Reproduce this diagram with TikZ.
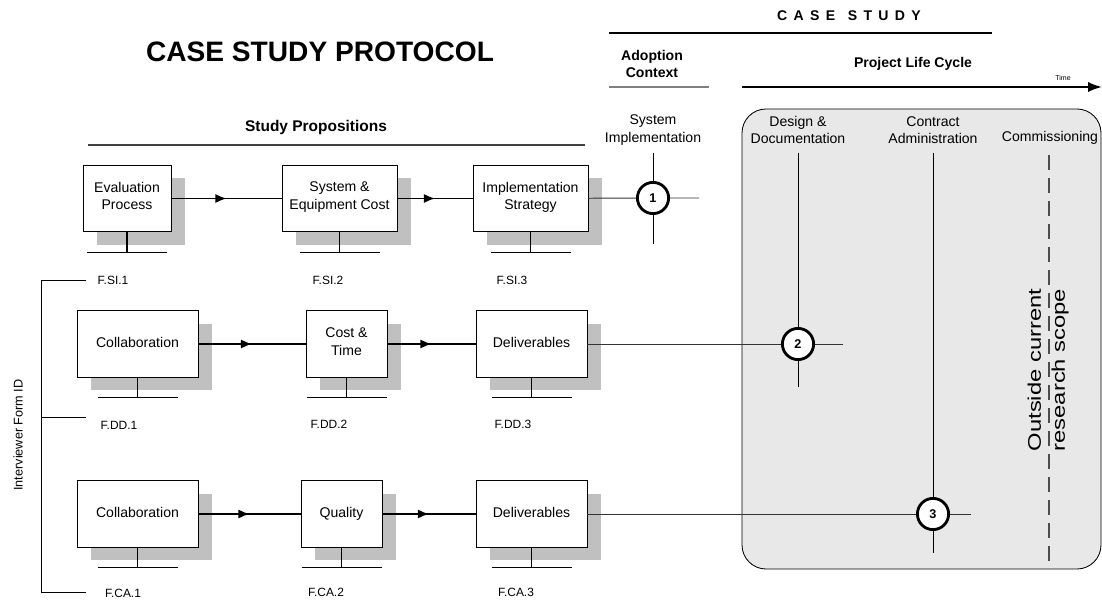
\documentclass[tikz,border=0pt]{standalone}
\usepackage{fontspec}
\setmainfont{Liberation Sans}
\usepackage{graphicx}
\usetikzlibrary{arrows.meta, positioning, shadows, decorations.markings}
\definecolor{panelgray}{HTML}{E8E8E8}
\definecolor{shadowgray}{HTML}{C0C0C0}
\tikzset{
    every node/.style={font=\fontsize{10}{12.5}\selectfont, align=center},
    heading/.style={font=\bfseries\fontsize{10}{12.5}\selectfont},
    prop/.style={ % Boxes for the study propositions
        draw, line width=0.6pt, fill=white,
        minimum height=1.66cm, inner sep=2pt,
        execute at end node=\strut, % same depth for every box text
        drop shadow={shadow xshift=0.35cm, shadow yshift=-0.33cm,
                     fill=shadowgray, opacity=1}
    },
    formid/.style={font=\fontsize{8.5}{10}\selectfont},
    stem/.style={line width=0.8pt},
    flow/.style={ % Arrow between propositions, tip half way
        line width=1.1pt, postaction={decorate},
        decoration={markings,
            mark=at position 0.5 with {\arrow{Latex[length=2.8mm,width=2.3mm]}}}
    },
    milestone/.style={
        circle, draw, line width=2pt, fill=white,
        minimum size=0.78cm, inner sep=0pt,
        font=\bfseries\fontsize{9}{10}\selectfont
    },
    link/.style={line width=0.7pt, draw=black!80},
    rule/.style={line width=1.2pt}
}

\begin{document}
\begin{tikzpicture}[x=0.025cm, y=-0.025cm]
    \useasboundingbox (0,0) rectangle (1102,602);

    % project life cycle panel
    \draw[fill=panelgray, line width=0.6pt, rounded corners=0.6cm]
        (742,109) rectangle (1101,569);

    % headings
    \node[font=\bfseries\fontsize{20}{24}\selectfont] (title) at (320,52) {CASE STUDY PROTOCOL};
    \node[font=\bfseries\fontsize{11}{13}\selectfont] (props) at (316,128) {Study Propositions};
    \draw[rule, draw=black!75] (88,145) -- (585,145);

    \node[font=\bfseries\fontsize{10}{12}\selectfont\addfontfeature{LetterSpace=45}]
        (casestudy) at (849,16) {CASE\hspace{0.9em}STUDY};
    \draw[rule] (609,33) -- (992,33);
    \node[heading]                  (adoption)  at (652,64)  {Adoption\\Context};
    \draw[line width=1.5pt, draw=black!50] (609,87) -- (709,87);
    \node[heading]                  (lifecycle) at (913,64)  {Project Life Cycle};
    \node[font=\fontsize{5}{6}\selectfont] (time) at (1063,78) {Time};
    \draw[line width=1.5pt, -{Latex[length=3.5mm,width=2.6mm]}] (742,87) -- (1102,87);

    \node (sysimp)   at (653,130)  {System\\Implementation};
    \node (design)   at (798,130)  {Design \&\\Documentation};
    \node (contract) at (933,130)  {Contract\\Administration};
    \node (commiss)  at (1050,138) {Commissioning};

    % study propositions
    \node[prop, minimum width=2.2cm]   (evalproc)  at (127,198.5)   {Evaluation\\Process};
    \node[prop, minimum width=2.875cm] (syscost)   at (339.5,198.5) {System \&\\Equipment Cost};
    \node[prop, minimum width=2.875cm] (implstrat) at (530.5,198.5) {Implementation\\Strategy};
    \node[prop, minimum width=3.025cm] (collabdd)  at (137.5,344)   {Collaboration};
    \node[prop, minimum width=2.025cm] (costtime)  at (346.5,344)   {Cost \&\\Time};
    \node[prop, minimum width=2.775cm] (delivdd)   at (531.5,344)   {Deliverables};
    \node[prop, minimum width=3.025cm] (collabca)  at (137.5,514)   {Collaboration};
    \node[prop, minimum width=2.025cm] (quality)   at (341.5,514)   {Quality};
    \node[prop, minimum width=2.775cm] (delivca)   at (531.5,514)   {Deliverables};

    \foreach \b in {evalproc, syscost, implstrat, collabdd, costtime, delivdd, collabca, quality, delivca}
        \draw[stem] (\b.south) -- ++(0,20) ++(-40,0) -- ++(80,0);

    \draw[flow] (evalproc) -- (syscost);
    \draw[flow] (syscost)  -- (implstrat);
    \draw[flow] (collabdd) -- (costtime);
    \draw[flow] (costtime) -- (delivdd);
    \draw[flow] (collabca) -- (quality);
    \draw[flow] (quality)  -- (delivca);

    % interviewer form ids
    \node[formid] (fsi1) at (113,280) {F.SI.1};
    \node[formid] (fsi2) at (328,280) {F.SI.2};
    \node[formid] (fsi3) at (512,280) {F.SI.3};
    \node[formid] (fdd1) at (119,425) {F.DD.1};
    \node[formid] (fdd2) at (329,424) {F.DD.2};
    \node[formid] (fdd3) at (513,424) {F.DD.3};
    \node[formid] (fca1) at (123,593) {F.CA.1};
    \node[formid] (fca2) at (326,592) {F.CA.2};
    \node[formid] (fca3) at (516,592) {F.CA.3};
    \draw[line width=0.7pt] (86,280) -- (41,280) -- (41,592) -- (86,592)
                            (41,417) -- (86,417);
    \node[rotate=90, font=\fontsize{9}{10}\selectfont] (formidlabel) at (18,435) {Interviewer Form ID};

    % milestones
    \node[milestone] (m1) at (653,198) {1};
    \node[milestone] (m2) at (798,344) {2};
    \node[milestone] (m3) at (933,514) {3};
    \coordinate (m1top) at (653,153);  \coordinate (m1bot) at (653,244);  \coordinate (m1end) at (699,198);
    \coordinate (m2top) at (798,153);  \coordinate (m2bot) at (798,387);  \coordinate (m2end) at (843,344);
    \coordinate (m3top) at (933,153);  \coordinate (m3bot) at (933,553);  \coordinate (m3end) at (971,514);
    \draw[line width=0.7pt] (m1top) -- (m1) -- (m1bot)
                            (m2top) -- (m2) -- (m2bot)
                            (m3top) -- (m3) -- (m3bot);
    \draw[link] (implstrat) -- (m1) -- (m1end);
    \draw[link] (delivdd)   -- (m2) -- (m2end);
    \draw[link] (delivca)   -- (m3) -- (m3end);

    % outside scope
    \draw[line width=0.8pt, draw=black!70, dash pattern=on 0.375cm off 0.2cm] (1049,155) -- (1049,569);
    \node[rotate=90, font=\fontsize{13}{17}\selectfont] (outside) at (1048,370)
        {\scalebox{1.3}[1]{\begin{tabular}{@{}c@{}}Outside current\\research scope\end{tabular}}};
\end{tikzpicture}
\end{document}
